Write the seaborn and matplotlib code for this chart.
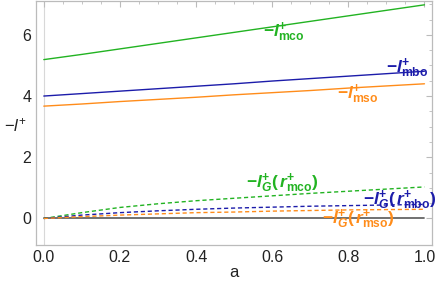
import numpy as np
import pandas as pd
import matplotlib
matplotlib.use("Agg")
import matplotlib.pyplot as plt
import seaborn as sns

# values
a = [0.0, 0.1, 0.2, 0.3, 0.4, 0.5, 0.6, 0.7, 0.8, 0.9, 1.0]
l_mco = [5.19, 5.36, 5.54, 5.72, 5.90, 6.08, 6.26, 6.44, 6.62, 6.80, 6.98]
l_mbo = [4.00, 4.08, 4.16, 4.24, 4.32, 4.40, 4.49, 4.57, 4.65, 4.73, 4.81]
l_mso = [3.67, 3.74, 3.82, 3.89, 3.96, 4.04, 4.11, 4.18, 4.26, 4.33, 4.40]
lG_mco = [0.0, 0.19, 0.36, 0.48, 0.58, 0.66, 0.74, 0.82, 0.89, 0.96, 1.03]
lG_mbo = [0.0, 0.11, 0.19, 0.25, 0.30, 0.34, 0.37, 0.40, 0.42, 0.44, 0.46]
lG_mso = [0.0, 0.06, 0.11, 0.15, 0.19, 0.21, 0.24, 0.26, 0.28, 0.29, 0.30]
zero = [0.0] * len(a)

green = "#22b322"
blue = "#1c1caa"
orange = "#ff8c1a"

sns.set_style("white")
plt.rcParams["font.family"] = ["Liberation Sans", "DejaVu Sans"]
plt.rcParams["mathtext.fontset"] = "custom"
plt.rcParams["mathtext.rm"] = "Liberation Sans"
plt.rcParams["mathtext.it"] = "Liberation Sans:italic"
plt.rcParams["mathtext.bf"] = "Liberation Sans:bold"
plt.rcParams["mathtext.bfit"] = "Liberation Sans:italic:bold"

df = pd.DataFrame({"a": a, "mco": l_mco, "mbo": l_mbo, "mso": l_mso,
                   "Gmco": lG_mco, "Gmbo": lG_mbo, "Gmso": lG_mso, "zero": zero})

fig = plt.figure(figsize=(4.36, 2.87), dpi=100)
ax = fig.add_axes([0.083, 0.146, 0.908, 0.85])

sns.lineplot(data=df, x="a", y="zero", color="#666666", lw=1.3, ax=ax)
sns.lineplot(data=df, x="a", y="mco", color=green, lw=1, ax=ax)
sns.lineplot(data=df, x="a", y="mbo", color=blue, lw=1, ax=ax)
sns.lineplot(data=df, x="a", y="mso", color=orange, lw=1, ax=ax)
for col, c in [("Gmco", green), ("Gmbo", blue), ("Gmso", orange)]:
    sns.lineplot(data=df, x="a", y=col, color=c, lw=1, ax=ax, dashes=False,
                 linestyle=(0, (3, 2)))

ax.axvline(0, color="#d8d8d8", lw=0.8, zorder=0)

def lab(sub):
    return (r"$\mathbf{-}\mathbfit{l}^{\mathbf{+}}_{\mathbf{" + sub + "}}$")

def labG(sub):
    return (r"$\mathbf{-}\mathbfit{l}^{\mathbf{+}}_{\mathbfit{G}}\mathbf{(}\,\mathbfit{r}"
            r"^{\mathbf{+}}_{\mathbf{" + sub + r"}}\mathbf{)}$")

kw = dict(ha="center", va="center", fontsize=12.5)
ax.text(0.63, 6.1, lab("mco"), color=green, **kw)
ax.text(0.955, 4.9, lab("mbo"), color=blue, **kw)
ax.text(0.825, 4.06, lab("mso"), color=orange, **kw)
ax.text(0.626, 1.15, labG("mco"), color=green, **kw)
ax.text(0.935, 0.6, labG("mbo"), color=blue, **kw)
ax.text(0.825, -0.02, labG("mso"), color=orange, **kw)

ax.set_xlim(-0.02, 1.02)
ax.set_ylim(-0.87, 7.1)
ax.set_xticks([0, 0.2, 0.4, 0.6, 0.8, 1.0])
ax.set_xticklabels(["0.0", "0.2", "0.4", "0.6", "0.8", "1.0"])
ax.set_yticks([0, 2, 4, 6])
ax.set_xticks(np.arange(-0.0, 1.01, 0.05), minor=True)
ax.set_yticks(np.arange(0, 7.1, 0.5), minor=True)
ax.tick_params(which="both", direction="in", top=True, right=True,
               color="#bbbbbb", labelsize=11.5, labelcolor="#222222")
ax.tick_params(which="major", length=4, width=0.8)
ax.tick_params(which="minor", length=2, width=0.6)
for s in ax.spines.values():
    s.set_color("#bbbbbb")
    s.set_linewidth(0.9)

ax.set_xlabel("a", fontsize=12, color="#222222")
ax.xaxis.set_label_coords(0.5, -0.08)
ax.set_ylabel(r"$-\mathit{l}^{+}$", fontsize=12, color="#222222",
              rotation=0, va="center", ha="center")
ax.yaxis.set_label_coords(-0.053, 0.49)

fig.savefig("out.png", dpi=100)
